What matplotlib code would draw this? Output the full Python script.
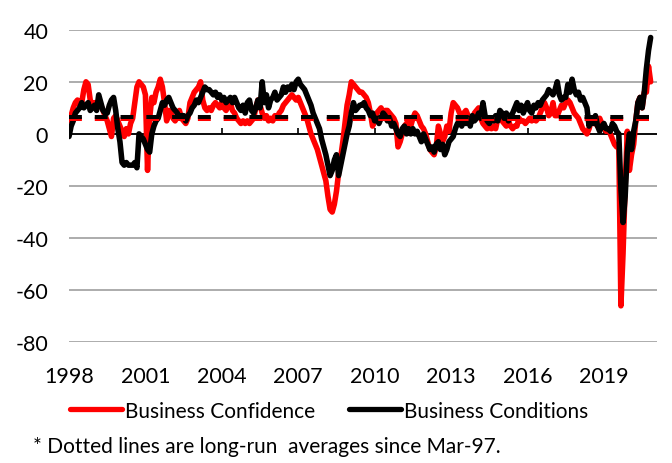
import numpy as np
import matplotlib
matplotlib.use("Agg")
import matplotlib.pyplot as plt
from matplotlib.lines import Line2D

plt.rcParams['font.family'] = ['Lato', 'DejaVu Sans']
plt.rcParams['axes.unicode_minus'] = False

# NAB monthly survey, from mid-1998 to May 2021 (net balance)
confidence = [
    5, 7, 10, 12, 13, 11,
    12, 17, 20, 19, 13, 11, 12, 10, 13, 11, 9, 7,
    5, 2, -1, 6, 7, 5, 3, 1, -1, 2, 0, 4,
    6, 12, 18, 20, 19, 18, 15, -14, 6, 14, 12, 16,
    18, 21, 18, 12, 5, 9, 8, 6, 5, 7, 9, 6,
    5, 4, 6, 12, 14, 16, 17, 18, 20, 13, 10, 9,
    10, 9, 11, 12, 11, 10, 12, 10, 9, 11, 12, 9,
    8, 6, 5, 4, 5, 4, 5, 4, 5, 6, 10, 13,
    11, 8, 6, 7, 5, 6, 5, 7, 6, 8, 9, 11,
    12, 13, 14, 15, 14, 13, 14, 12, 10, 8, 6, 3,
    0, -2, -4, -6, -9, -12, -15, -18, -24, -29, -30, -27,
    -22, -15, -9, -3, 4, 11, 15, 20, 19, 18, 17, 16,
    16, 15, 14, 12, 8, 3, 5, 8, 9, 10, 8, 9,
    9, 8, 7, 6, 4, -5, -3, 0, 3, 4, 5, 3,
    6, 8, 7, 5, 3, 2, 0, -3, -6, -7, -8, -5,
    3, 0, -3, -1, 3, 1, 8, 12, 11, 10, 8, 7,
    8, 9, 7, 6, 5, 8, 9, 10, 6, 4, 3, 2,
    3, 2, 3, 2, 6, 7, 5, 4, 3, 5, 3, 2,
    3, 3, 6, 5, 5, 4, 5, 6, 5, 6, 5, 6,
    8, 10, 12, 10, 7, 8, 12, 7, 7, 9, 11, 10,
    12, 13, 12, 10, 8, 7, 6, 4, 2, 1, 0, 2,
    5, 6, 4, 3, 6, 4, 3, 1, 2, 0, -2, -4,
    -5, -4, -66, -46, -20, 1, -14, -8, -4, 5, 12, 14,
    10, 16, 16, 26, 20,
]

conditions = [
    -1, 3, 5, 8, 9, 10,
    12, 10, 11, 12, 9, 10, 11, 9, 15, 12, 9, 8,
    8, 11, 13, 14, 9, 2, -3, -11, -12, -11, -12, -12,
    -12, -11, -13, 0, -1, -2, -4, -6, -7, 0, 3, 5,
    6, 9, 12, 11, 13, 14, 12, 10, 9, 8, 6, 7,
    7, 5, 7, 8, 10, 11, 13, 12, 14, 16, 18, 17,
    17, 16, 15, 16, 14, 15, 13, 14, 12, 13, 14, 12,
    14, 12, 10, 9, 11, 8, 12, 13, 9, 8, 10, 13,
    10, 20, 12, 15, 10, 13, 14, 16, 13, 14, 15, 18,
    16, 18, 17, 19, 17, 20, 21, 19, 18, 17, 15, 13,
    11, 8, 6, 4, 2, -2, -5, -8, -12, -16, -14, -10,
    -8, -16, -12, -8, -4, 0, 3, 8, 12, 9, 10, 11,
    11, 12, 10, 9, 7, 8, 5, 6, 4, 6, 8, 7,
    5, 6, 3, 4, 2, 0, -1, 2, 3, 0, 2, 0,
    2, 0, 1, -1, -3, 0, -2, -4, -6, -5, -7, -4,
    -3, -6, -4, -8, -6, -3, -2, -1, 2, 4, 5, 3,
    5, 4, 6, 3, 7, 5, 6, 8, 6, 12, 7, 5,
    4, 6, 5, 7, 5, 9, 8, 6, 8, 5, 7, 8,
    10, 12, 9, 11, 8, 10, 12, 9, 8, 11, 10, 12,
    11, 13, 14, 15, 17, 16, 15, 17, 20, 15, 13, 14,
    14, 19, 16, 21, 17, 15, 16, 13, 14, 12, 10, 3,
    6, 4, 7, 3, 1, 3, 4, 2, 2, 1, 4, 3,
    1, 0, -21, -34, -24, -7, 0, -6, 1, 5, 12, 14,
    10, 16, 25, 32, 37,
]

# long-run averages since Mar-97
conf_avg = 5.6
cond_avg = 6.3

tick_labels = ["1998", "2001", "2004", "2007", "2010", "2013", "2016", "2019"]

x = np.arange(len(confidence))
ticks = np.arange(0, len(confidence), 36)[:len(tick_labels)]

fig = plt.figure(figsize=(6.72, 4.64), dpi=100)
ax = fig.add_axes([69 / 672, 1 - 343.3 / 464, 588 / 672, 312.6 / 464])

ax.set_ylim(-80, 40)
ax.set_xlim(0, 277)
ax.set_yticks(range(-80, 41, 20))
ax.yaxis.grid(True, color="#a6a6a6", lw=1.3, zorder=0)
ax.set_axisbelow(True)
for s in ax.spines.values():
    s.set_visible(False)

ax.axhline(0, color="black", lw=1.3, zorder=1)
ax.vlines(ticks[1:], 0, 2.4, color="black", lw=1.2, zorder=1)

ax.plot(x, confidence, color="#ff0000", lw=4.0, solid_joinstyle="round",
        solid_capstyle="round", zorder=2)
ax.plot(x, conditions, color="black", lw=4.0, solid_joinstyle="round",
        solid_capstyle="round", zorder=3)
ax.axhline(conf_avg, color="#ff0000", lw=2.9, dashes=(3.2, 3.2), zorder=4)
ax.axhline(cond_avg, color="black", lw=2.9, dashes=(3.2, 3.2), zorder=5)

ax.set_xticks(ticks)
ax.set_xticklabels(tick_labels)
ax.tick_params(axis="x", length=0, pad=17, labelsize=15.5)
ax.tick_params(axis="y", length=0, pad=15, labelsize=15.5)

handles = [Line2D([], [], color="#ff0000", lw=3.8, solid_capstyle="round"),
           Line2D([], [], color="black", lw=3.8, solid_capstyle="round")]
fig.legend(handles, ["Business Confidence", "Business Conditions"],
           loc="center", bbox_to_anchor=(0.49, 1 - 411.7 / 464), ncol=2,
           frameon=False, fontsize=15, handlelength=2.5, handletextpad=0.15,
           columnspacing=1.6)

fig.text(33 / 672, 1 - 446.7 / 464, "* Dotted lines are long-run  averages since Mar-97.",
         fontsize=15, va="center", ha="left")

fig.savefig("out.png", dpi=100)
